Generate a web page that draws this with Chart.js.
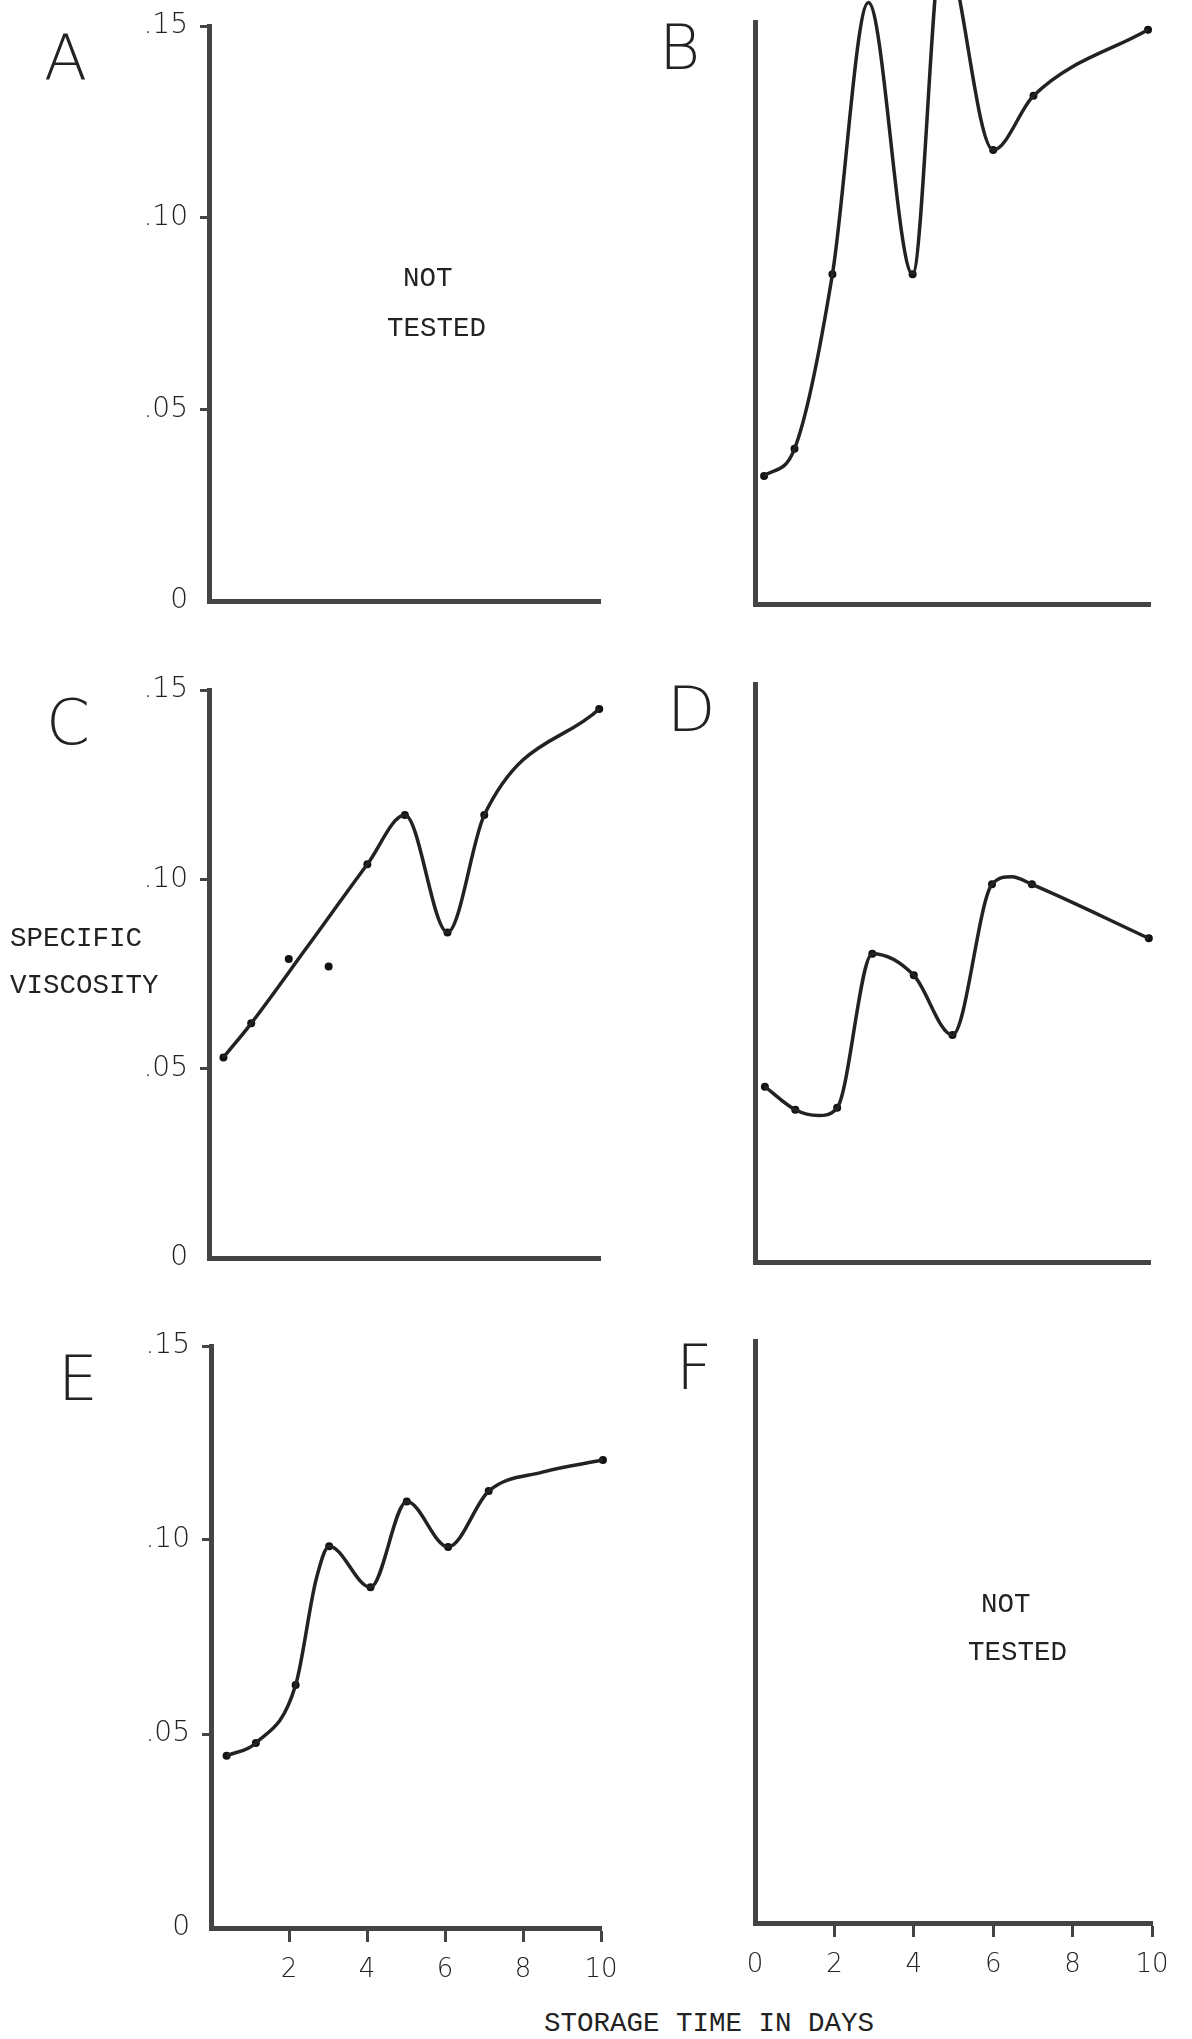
<!DOCTYPE html>
<html>
<head>
<meta charset="utf-8">
<script src="https://cdn.jsdelivr.net/npm/chart.js@4.4.1/dist/chart.umd.min.js"></script>
<style>
html,body{margin:0;padding:0;background:#fff;}
body{width:1192px;height:2039px;position:relative;overflow:hidden;}
canvas{position:absolute;}
.letra{position:absolute;font-family:"DejaVu Sans";font-weight:200;font-size:63px;line-height:1;color:#222;}
.tipo{position:absolute;font-family:"Liberation Mono";font-size:27.5px;line-height:1;color:#222;white-space:pre;}
</style>
</head>
<body>
<canvas id="grafA"></canvas>
<canvas id="grafB"></canvas>
<canvas id="grafC"></canvas>
<canvas id="grafD"></canvas>
<canvas id="grafE"></canvas>
<canvas id="grafF"></canvas>

<div class="letra" style="left:44px;top:26px">A</div>
<div class="letra" style="left:659px;top:16px">B</div>
<div class="letra" style="left:46px;top:691px">C</div>
<div class="letra" style="left:667px;top:678px">D</div>
<div class="letra" style="left:58px;top:1347px">E</div>
<div class="letra" style="left:676px;top:1336px">F</div>

<div class="tipo" style="left:403px;top:265px">NOT</div>
<div class="tipo" style="left:387px;top:315px">TESTED</div>
<div class="tipo" style="left:981px;top:1591px">NOT</div>
<div class="tipo" style="left:968px;top:1639px">TESTED</div>
<div class="tipo" style="left:10px;top:925px">SPECIFIC</div>
<div class="tipo" style="left:10px;top:972px">VISCOSITY</div>
<div class="tipo" style="left:544px;top:2010px">STORAGE TIME IN DAYS</div>

<script>
// ticks
var diasTicks = [0, 2, 4, 6, 8, 10];
var diasLabelsE = ['', '2', '4', '6', '8', '10'];
var diasLabelsF = ['0', '2', '4', '6', '8', '10'];
var viscTicks = [0, 0.05, 0.10, 0.15];
var viscLabels = ['0', '.05', '.10', '.15'];

// B - measured points and drawn curve
var bDias = [0.23, 1.0, 1.96, 2.87, 3.99, 6.03, 7.05, 9.95];
var bVisc = [0.033, 0.040, 0.085, 0.155, 0.085, 0.117, 0.131, 0.148];
var bCurvaDias = [0.23, 1.0, 1.96, 2.87, 3.99, 4.75, 6.03, 7.05, 9.95];
var bCurvaVisc = [0.033, 0.040, 0.085, 0.155, 0.085, 0.170, 0.117, 0.131, 0.148];

// C
var cDias = [0.37, 1.08, 2.04, 3.06, 4.05, 5.01, 6.1, 7.04, 9.98];
var cVisc = [0.053, 0.062, 0.079, 0.077, 0.104, 0.117, 0.086, 0.117, 0.145];
var cCurvaDias = [0.37, 1.08, 2.5, 4.05, 5.01, 6.1, 7.04, 9.98];
var cCurvaVisc = [0.053, 0.062, 0.082, 0.104, 0.117, 0.086, 0.117, 0.145];

// D
var dDias = [0.25, 1.02, 2.08, 2.97, 4.02, 5.0, 6.0, 7.01, 9.97];
var dVisc = [0.0455, 0.0395, 0.040, 0.080, 0.0744, 0.0589, 0.098, 0.098, 0.084];
var dCurvaDias = [0.25, 1.02, 1.6, 2.08, 2.97, 4.02, 5.0, 6.0, 6.5, 7.01, 9.97];
var dCurvaVisc = [0.0455, 0.0395, 0.038, 0.040, 0.080, 0.0744, 0.0589, 0.098, 0.100, 0.098, 0.084];

// E
var eDias = [0.40, 1.15, 2.17, 3.03, 4.09, 5.02, 6.08, 7.12, 10.05];
var eVisc = [0.0444, 0.0477, 0.0626, 0.0984, 0.0878, 0.1099, 0.0982, 0.1126, 0.1206];
var eCurvaDias = [0.40, 1.15, 2.17, 2.7, 3.03, 4.09, 5.02, 6.08, 7.12, 8.5, 10.05];
var eCurvaVisc = [0.0444, 0.0477, 0.0626, 0.0900, 0.0984, 0.0878, 0.1099, 0.0982, 0.1126, 0.1175, 0.1206];

var colorEje = '#444';
var colorTinta = '#222';

function pares(xs, ys){
    var out = [];
    for (var i in xs){
        out.push({x: xs[i], y: ys[i]});
    }
    return out;
}

function panel(id, cfg){
    var el = document.getElementById(id);
    var padL = cfg.padL, padT = 30, padR = 40, padB = cfg.xLabels ? 80 : 20;
    var w = padL + (cfg.x10 - cfg.x0) + padR;
    var h = padT + (cfg.y0 - cfg.y15) + padB;
    el.width = w; el.height = h;
    el.style.width = w + 'px'; el.style.height = h + 'px';
    el.style.left = (cfg.x0 - padL) + 'px';
    el.style.top = (cfg.y15 - padT) + 'px';

    var datasets = [];
    if (cfg.curva){
        datasets.push({
            data: pares(cfg.curva[0], cfg.curva[1]),
            showLine: true,
            borderColor: colorTinta,
            borderWidth: 3.5,
            pointRadius: 0,
            cubicInterpolationMode: 'monotone',
            clip: false
        });
    }
    if (cfg.puntos){
        datasets.push({
            data: pares(cfg.puntos[0], cfg.puntos[1]),
            showLine: false,
            pointRadius: 4,
            pointBackgroundColor: '#111',
            pointBorderWidth: 0,
            clip: false
        });
    }

    var sinCero = function(ctx){
        return (ctx.tick && ctx.tick.value === 0) ? 'rgba(0,0,0,0)' : colorEje;
    };

    new Chart(el, {
        type: 'scatter',
        data: { datasets: datasets },
        options: {
            responsive: false,
            animation: false,
            devicePixelRatio: 1,
            events: [],
            layout: { padding: { left: 0, top: padT, right: padR, bottom: 0 } },
            plugins: { legend: { display: false }, tooltip: { enabled: false } },
            scales: {
                x: {
                    type: 'linear', min: 0, max: 10,
                    afterBuildTicks: function(s){ s.ticks = diasTicks.map(function(v){ return {value: v}; }); },
                    afterFit: function(s){ s.height = padB; },
                    border: { display: true, color: colorEje, width: 5 },
                    grid: { display: !!cfg.xLabels, drawOnChartArea: false, drawTicks: true, tickLength: 14, tickWidth: 3, tickColor: sinCero },
                    ticks: {
                        display: !!cfg.xLabels, padding: 13, color: colorTinta, maxRotation: 0, autoSkip: false,
                        font: { family: 'DejaVu Sans', weight: 200, size: 26 },
                        callback: function(v, i){ return cfg.xLabels ? cfg.xLabels[i] : ''; }
                    }
                },
                y: {
                    type: 'linear', min: 0, max: 0.15,
                    afterBuildTicks: function(s){ s.ticks = viscTicks.map(function(v){ return {value: v}; }); },
                    afterFit: function(s){ s.width = padL; },
                    border: { display: true, color: colorEje, width: 5 },
                    grid: { display: !!cfg.yLabels, drawOnChartArea: false, drawTicks: true, tickLength: 9, tickWidth: 3, tickColor: sinCero },
                    ticks: {
                        display: !!cfg.yLabels, padding: 12, color: colorTinta,
                        font: { family: 'DejaVu Sans', weight: 200, size: 28 },
                        callback: function(v, i){ return cfg.yLabels ? cfg.yLabels[i] : ''; }
                    }
                }
            }
        }
    });
}

panel('grafA', { x0: 209, x10: 600, y15: 26, y0: 610, padL: 130, yLabels: viscLabels });
panel('grafB', { x0: 755, x10: 1150, y15: 22, y0: 604, padL: 60,
    curva: [bCurvaDias, bCurvaVisc], puntos: [bDias, bVisc] });
panel('grafC', { x0: 209, x10: 600, y15: 690, y0: 1267, padL: 130, yLabels: viscLabels,
    curva: [cCurvaDias, cCurvaVisc], puntos: [cDias, cVisc] });
panel('grafD', { x0: 755, x10: 1150, y15: 684, y0: 1262, padL: 60,
    curva: [dCurvaDias, dCurvaVisc], puntos: [dDias, dVisc] });
panel('grafE', { x0: 211, x10: 601, y15: 1346, y0: 1928, padL: 130, yLabels: viscLabels, xLabels: diasLabelsE,
    curva: [eCurvaDias, eCurvaVisc], puntos: [eDias, eVisc] });
panel('grafF', { x0: 755, x10: 1152, y15: 1341, y0: 1923, padL: 60, xLabels: diasLabelsF });
</script>
</body>
</html>
